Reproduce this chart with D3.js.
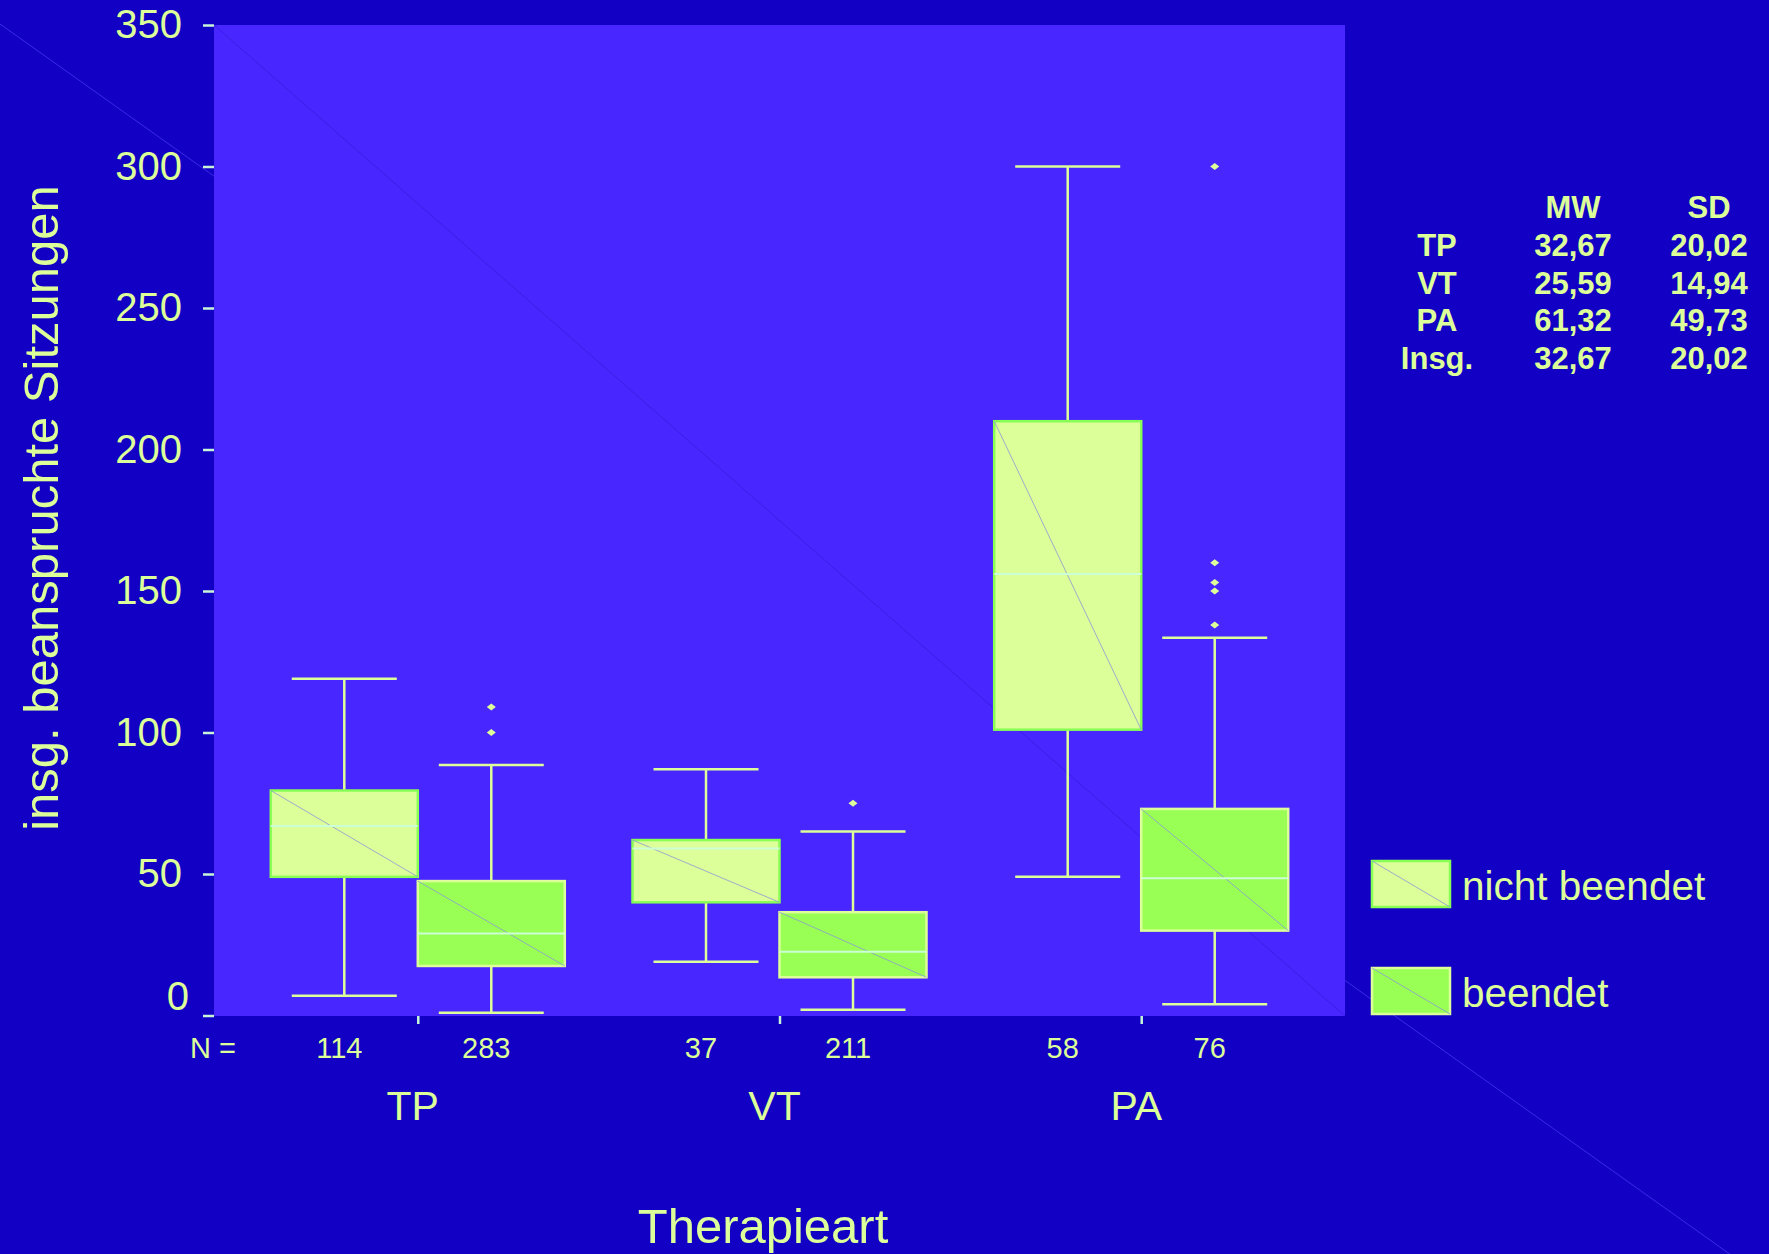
<!DOCTYPE html>
<html>
<head>
<meta charset="utf-8">
<script src="https://cdn.jsdelivr.net/npm/d3@7"></script>
<style>
  html, body { margin: 0; padding: 0; background: #1200c4; }
  svg { display: block; }
  text { font-family: "Liberation Sans", Arial, sans-serif; fill: #ddff99; }
</style>
</head>
<body>
<svg id="chart" width="1769" height="1254"></svg>
<script>
// ---------- DATA ----------
const groups = ["TP", "VT", "PA"];
const statuses = ["nicht beendet", "beendet"];
const nCounts = [[114, 283], [37, 211], [58, 76]];
// [lower whisker, Q1, median, Q3, upper whisker] per group, per status
const boxStats = [
  [[7, 49, 67, 79.5, 119], [1, 17.5, 29, 47.5, 88.5]],
  [[19, 40, 59, 62, 87], [2, 13.5, 22.5, 36.5, 65]],
  [[49, 101, 156, 210, 300], [4, 30, 48.5, 73, 133.5]]
];
const outliers = [
  [[], [100, 109]],
  [[], [75]],
  [[], [138, 150, 153, 160, 300]]
];
const yTicks = [0, 50, 100, 150, 200, 250, 300, 350];
const statRows = ["TP", "VT", "PA", "Insg."];
const statCols = ["MW", "SD"];
const mwValues = ["32,67", "25,59", "61,32", "32,67"];
const sdValues = ["20,02", "14,94", "49,73", "20,02"];

// ---------- STYLE ----------
const W = 1769, H = 1254;
const plot = { left: 214, right: 1345, top: 25, bottom: 1016 };
const colBg = "#1200c4", colPlot = "#4826ff", colText = "#ddff99";
const colTick = "#c8f5d8";
const fills = { "nicht beendet": "#ddff99", "beendet": "#99ff55" };
const borders = { "nicht beendet": "#88ff55", "beendet": "#ddff99" };
const colMedian = "#ccffd6";
const colWhisker = "#ddff99";

const svg = d3.select("#chart");

svg.append("rect").attr("width", W).attr("height", H).attr("fill", colBg);
// faint background diagonal
svg.append("line").attr("x1", 0).attr("y1", 24).attr("x2", W).attr("y2", 1282)
  .attr("stroke", "#3d2ae6").attr("stroke-width", 1);

// plot area
svg.append("rect").attr("x", plot.left).attr("y", plot.top)
  .attr("width", plot.right - plot.left).attr("height", plot.bottom - plot.top)
  .attr("fill", colPlot);
svg.append("line").attr("x1", plot.left).attr("y1", plot.top)
  .attr("x2", plot.right).attr("y2", plot.bottom)
  .attr("stroke", "#3a1ee6").attr("stroke-width", 1);

// ---------- SCALES ----------
const y = d3.scaleLinear().domain([0, 350]).range([1015.5, 25]);
const x0 = d3.scaleBand().domain(groups).range([plot.left, plot.right])
  .paddingInner(0).paddingOuter(0.0634);
const boxW = 147;
const x1 = d3.scaleBand().domain(statuses).range([-boxW, boxW]);
const gCenter = g => x0(g) + x0.bandwidth() / 2;

// ---------- Y AXIS ----------
const yAxis = d3.axisLeft(y).tickValues(yTicks).tickSize(11).tickPadding(21);
const yg = svg.append("g").attr("transform", `translate(${plot.left},0)`).call(yAxis);
yg.select(".domain").remove();
yg.selectAll(".tick line").attr("stroke", colTick).attr("stroke-width", 2.5);
yg.selectAll(".tick text")
  .attr("fill", colText).style("font-size", "40px")
  .style("font-family", '"Liberation Sans", Arial, sans-serif');
yg.selectAll(".tick").filter(d => d === 0).select("text")
  .attr("x", -25).attr("dy", "-0.15em");

// y axis title
svg.append("text")
  .attr("transform", `translate(58,508) rotate(-90)`)
  .attr("text-anchor", "middle")
  .style("font-size", "49px")
  .text("insg. beanspruchte Sitzungen");

// ---------- X AXIS ----------
const xAxis = d3.axisBottom(d3.scalePoint().domain(groups)
  .range([gCenter(groups[0]), gCenter(groups[2])])).tickSize(8).tickFormat("");
const xg = svg.append("g").attr("transform", `translate(0,${plot.bottom})`).call(xAxis);
xg.select(".domain").remove();
xg.selectAll(".tick line").attr("stroke", colTick).attr("stroke-width", 2.5);

svg.append("text").attr("x", 190).attr("y", 1058)
  .style("font-size", "29px").text("N =");

groups.forEach((g, gi) => {
  statuses.forEach((s, si) => {
    svg.append("text")
      .attr("x", gCenter(g) + x1(s) + x1.bandwidth() / 2 - 5)
      .attr("y", 1058)
      .attr("text-anchor", "middle")
      .style("font-size", "29px")
      .text(nCounts[gi][si]);
  });
  svg.append("text")
    .attr("x", gCenter(g) - 5)
    .attr("y", 1120)
    .attr("text-anchor", "middle")
    .style("font-size", "41px")
    .text(g);
});

svg.append("text").attr("x", 763).attr("y", 1243)
  .attr("text-anchor", "middle").style("font-size", "49px").text("Therapieart");

// ---------- BOXES ----------
const capW = 105;
groups.forEach((g, gi) => {
  statuses.forEach((s, si) => {
    const [lo, q1, med, q3, hi] = boxStats[gi][si];
    const bx = gCenter(g) + x1(s);
    const cx = bx + x1.bandwidth() / 2;
    const grp = svg.append("g");
    // whiskers
    grp.append("line").attr("x1", cx).attr("x2", cx).attr("y1", y(hi)).attr("y2", y(q3))
      .attr("stroke", colWhisker).attr("stroke-width", 2.5);
    grp.append("line").attr("x1", cx).attr("x2", cx).attr("y1", y(q1)).attr("y2", y(lo))
      .attr("stroke", colWhisker).attr("stroke-width", 2.5);
    [lo, hi].forEach(v => {
      grp.append("line").attr("x1", cx - capW / 2).attr("x2", cx + capW / 2)
        .attr("y1", y(v)).attr("y2", y(v))
        .attr("stroke", colWhisker).attr("stroke-width", 2.5);
    });
    // box
    grp.append("rect").attr("x", bx).attr("y", y(q3))
      .attr("width", x1.bandwidth()).attr("height", y(q1) - y(q3))
      .attr("fill", fills[s]).attr("stroke", borders[s]).attr("stroke-width", 2.5);
    grp.append("line").attr("x1", bx).attr("y1", y(q3))
      .attr("x2", bx + x1.bandwidth()).attr("y2", y(q1))
      .attr("stroke", "#8c9ad8").attr("stroke-width", 1).attr("opacity", 0.8);
    grp.append("line").attr("x1", bx).attr("x2", bx + x1.bandwidth())
      .attr("y1", y(med)).attr("y2", y(med))
      .attr("stroke", colMedian).attr("stroke-width", 2);
    // outliers
    outliers[gi][si].forEach(v => {
      grp.append("path")
        .attr("d", "M-4.5,0L0,-3.5L4.5,0L0,3.5Z")
        .attr("transform", `translate(${cx},${y(v)})`)
        .attr("fill", colWhisker);
    });
  });
});

// ---------- LEGEND ----------
const legY = { "nicht beendet": 861, "beendet": 968 };
statuses.forEach(s => {
  const ly = legY[s];
  svg.append("rect").attr("x", 1372).attr("y", ly).attr("width", 78).attr("height", 46)
    .attr("fill", fills[s]).attr("stroke", borders[s]).attr("stroke-width", 2.5);
  svg.append("line").attr("x1", 1372).attr("y1", ly).attr("x2", 1450).attr("y2", ly + 46)
    .attr("stroke", "#8c9ad8").attr("stroke-width", 1).attr("opacity", 0.8);
  svg.append("text").attr("x", 1462).attr("y", ly + 39)
    .style("font-size", "40.5px").text(s);
});

// ---------- STATS TABLE ----------
const colX = { label: 1437, MW: 1573, SD: 1709 };
statCols.forEach(c => {
  svg.append("text").attr("x", colX[c]).attr("y", 218).attr("text-anchor", "middle")
    .style("font-size", "31px").style("font-weight", "bold").text(c);
});
statRows.forEach((r, i) => {
  const yy = 256 + i * 37.5;
  svg.append("text").attr("x", colX.label).attr("y", yy).attr("text-anchor", "middle")
    .style("font-size", "31px").style("font-weight", "bold").text(r);
  svg.append("text").attr("x", colX.MW).attr("y", yy).attr("text-anchor", "middle")
    .style("font-size", "31px").style("font-weight", "bold").text(mwValues[i]);
  svg.append("text").attr("x", colX.SD).attr("y", yy).attr("text-anchor", "middle")
    .style("font-size", "31px").style("font-weight", "bold").text(sdValues[i]);
});
</script>
</body>
</html>
